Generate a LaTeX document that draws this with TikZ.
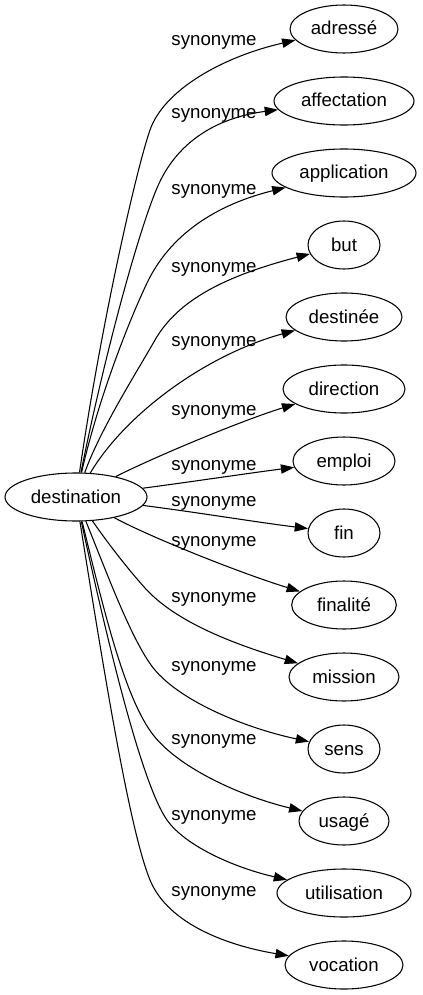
\documentclass[tikz,border=0pt]{standalone}
\usepackage{fontspec}
\setmainfont{Liberation Sans}
\usetikzlibrary{shapes.geometric,arrows.meta}
\begin{document}
\begin{tikzpicture}[x=0.75pt,y=-0.75pt,
  word/.style={ellipse,draw,line width=0.8pt,inner sep=0pt,minimum height=36pt,
    font=\fontsize{14pt}{16pt}\selectfont,text height=12pt,text depth=3pt},
  lbl/.style={inner sep=0pt,font=\fontsize{14pt}{16pt}\selectfont,text height=12pt,text depth=3pt},
  syn/.style={draw,line width=0.8pt,-{Triangle[length=10pt,width=7pt]}}]
\useasboundingbox (0,0) rectangle (422,995);
% nodes
\node[word,minimum width=106.5pt] (dst) at (76,497) {destination};
\node[word,minimum width=81pt]    (adr) at (344,29)  {adressé};
\node[word,minimum width=105pt]   (aff) at (344,101) {affectation};
\node[word,minimum width=108pt]   (app) at (344,173) {application};
\node[word,minimum width=54pt]    (but) at (344,245) {but};
\node[word,minimum width=87pt]    (des) at (344,317) {destinée};
\node[word,minimum width=91.5pt]  (dir) at (344,389) {direction};
\node[word,minimum width=76.5pt]  (emp) at (344,461) {emploi};
\node[word,minimum width=54pt]    (fin) at (344,533) {fin};
\node[word,minimum width=78.5pt]  (fil) at (344,605) {finalité};
\node[word,minimum width=82.5pt]  (mis) at (344,677) {mission};
\node[word,minimum width=54pt]    (sen) at (344,749) {sens};
\node[word,minimum width=67.5pt]  (usa) at (344,821) {usagé};
\node[word,minimum width=100.5pt] (uti) at (344,893) {utilisation};
\node[word,minimum width=88.5pt]  (voc) at (344,965) {vocation};
% labels
\node[lbl] (l0)  at (214,40)  {synonyme};
\node[lbl] (l1)  at (214,113) {synonyme};
\node[lbl] (l2)  at (214,189) {synonyme};
\node[lbl] (l3)  at (214,266) {synonyme};
\node[lbl] (l4)  at (214,340) {synonyme};
\node[lbl] (l5)  at (214,409) {synonyme};
\node[lbl] (l6)  at (214,464) {synonyme};
\node[lbl] (l7)  at (214,500) {synonyme};
\node[lbl] (l8)  at (214,540) {synonyme};
\node[lbl] (l9)  at (214,596) {synonyme};
\node[lbl] (l10) at (214,665) {synonyme};
\node[lbl] (l11) at (214,738) {synonyme};
\node[lbl] (l12) at (214,814) {synonyme};
\node[lbl] (l13) at (214,890) {synonyme};
% edges
\draw[syn] (dst) .. controls (100,330) and (136,170) .. (150,130) .. controls (164,90) and (222,57) .. (adr);
\draw[syn] (dst) .. controls (105,353) and (138,233) .. (157,188) .. controls (176,143) and (215,118) .. (aff);
\draw[syn] (dst) .. controls (98,400) and (128,323) .. (147,283) .. controls (170,235) and (215,205) .. (app);
\draw[syn] (dst) .. controls (100,430) and (135,375) .. (155,340) .. controls (178,300) and (225,276) .. (but);
\draw[syn] (dst) .. controls (126,413) and (207,354.5) .. (des);
\draw[syn] (dst) .. controls (150,459) and (240,421) .. (dir);
\draw[syn] (dst) .. controls (190,482) and (250,473) .. (emp);
\draw[syn] (dst) .. controls (195,512) and (255,522) .. (fin);
\draw[syn] (dst) .. controls (150,537) and (240,573) .. (fil);
\draw[syn] (dst) .. controls (107,542) and (127,568) .. (145,588) .. controls (176.5,623) and (237,645) .. (mis);
\draw[syn] (dst) .. controls (106.5,572) and (129.6,635) .. (151,665) .. controls (176,700) and (245,728) .. (sen);
\draw[syn] (dst) .. controls (102,602) and (122.6,692) .. (151,732) .. controls (176,767) and (240,796) .. (usa);
\draw[syn] (dst) .. controls (109.6,652) and (142.5,785) .. (167,820) .. controls (184.5,845) and (232,867) .. (uti);
\draw[syn] (dst) .. controls (104,672) and (129.5,830) .. (150,880) .. controls (168.5,925) and (230,946) .. (voc);
\end{tikzpicture}
\end{document}
